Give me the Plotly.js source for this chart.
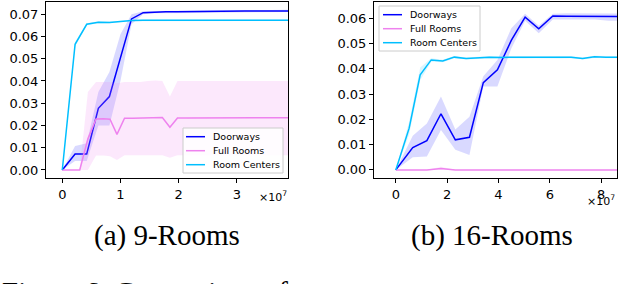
<!DOCTYPE html>
<html><head><meta charset="utf-8">
<script src="https://cdn.plot.ly/plotly-3.0.1.min.js"></script>
<style>html,body{margin:0;padding:0;background:#fff}#chart{width:618px;height:284px}</style>
</head><body><div id="chart"></div>
<script>
// ---------- 9-Rooms (x in units of 1e7) ----------
const a_x = [0, 0.22, 0.42, 0.62, 0.81, 1.0, 1.19, 1.39, 1.58, 1.78, 1.97, 2.17, 2.36, 2.56, 2.75, 2.95, 3.14, 3.34, 3.53, 3.73, 3.92];
const a_door = [0, 0.0072, 0.0072, 0.0277, 0.033, 0.050, 0.0679, 0.0707, 0.0710, 0.0711, 0.0711, 0.0711, 0.0711, 0.0712, 0.0712, 0.0713, 0.0714, 0.0715, 0.0715, 0.0715, 0.0715];
const a_door_lo = [0, 0.0040, 0.0040, 0.0200, 0.0200, 0.040, 0.0655, 0.0700, 0.0705, 0.0706, 0.0706, 0.0706, 0.0706, 0.0707, 0.0707, 0.0708, 0.0709, 0.0710, 0.0710, 0.0710, 0.0710];
const a_door_hi = [0, 0.0108, 0.0120, 0.0350, 0.0440, 0.061, 0.0700, 0.0713, 0.0715, 0.0716, 0.0716, 0.0716, 0.0716, 0.0717, 0.0717, 0.0718, 0.0719, 0.0720, 0.0720, 0.0720, 0.0720];
const a_cent = [0, 0.0565, 0.0655, 0.0664, 0.0663, 0.0668, 0.0672, 0.0673, 0.0673, 0.0673, 0.0674, 0.0674, 0.0674, 0.0673, 0.0674, 0.0674, 0.0673, 0.0673, 0.0673, 0.0673, 0.0673];
const a_cent_lo = [0, 0.0555, 0.0650, 0.0660, 0.0660, 0.0665, 0.0669, 0.0670, 0.0670, 0.0670, 0.0671, 0.0671, 0.0671, 0.0670, 0.0671, 0.0671, 0.0670, 0.0670, 0.0670, 0.0670, 0.0670];
const a_cent_hi = [0, 0.0575, 0.0660, 0.0668, 0.0667, 0.0671, 0.0675, 0.0676, 0.0676, 0.0676, 0.0677, 0.0677, 0.0677, 0.0676, 0.0677, 0.0677, 0.0676, 0.0676, 0.0676, 0.0676, 0.0676];
const a_fx = [0, 0.14, 0.30, 0.44, 0.58, 0.71, 0.82, 0.94, 1.07, 1.21, 1.34, 1.47, 1.60, 1.72, 1.85, 1.98, 2.12, 2.25, 2.38, 2.52, 2.65, 2.78, 2.92, 3.05, 3.18, 3.32, 3.45, 3.58, 3.72, 3.85, 3.98];
const a_full = [0, 0, 0, 0.0140, 0.0229, 0.0230, 0.0228, 0.0160, 0.0233, 0.0233, 0.0233, 0.0233, 0.0234, 0.0236, 0.0192, 0.0234, 0.0234, 0.0234, 0.0233, 0.0233, 0.0233, 0.0233, 0.0234, 0.0234, 0.0234, 0.0234, 0.0234, 0.0234, 0.0235, 0.0235, 0.0235];
const a_full_lo = [0, 0, 0, 0, 0.0065, 0.0065, 0.0062, 0.0045, 0.0066, 0.0066, 0.0066, 0.0066, 0.0066, 0.0066, 0.0055, 0.0066, 0.0066, 0.0066, 0.0066, 0.0066, 0.0066, 0.0066, 0.0066, 0.0066, 0.0066, 0.0066, 0.0066, 0.0066, 0.0066, 0.0066, 0.0066];
const a_full_hi = [0, 0, 0, 0.0350, 0.0395, 0.0395, 0.0395, 0.0390, 0.0395, 0.0395, 0.0395, 0.0400, 0.0402, 0.0400, 0.0330, 0.0400, 0.0400, 0.0400, 0.0400, 0.0400, 0.0400, 0.0400, 0.0400, 0.0400, 0.0400, 0.0400, 0.0400, 0.0400, 0.0400, 0.0400, 0.0400];

// ---------- 16-Rooms ----------
const b_x = [0, 0.66, 1.21, 1.76, 2.32, 2.87, 3.41, 3.96, 4.50, 5.04, 5.57, 6.12, 6.66, 7.20, 7.75, 8.30, 8.84];
const b_door = [0, 0.0088, 0.0116, 0.0222, 0.0119, 0.0129, 0.0345, 0.0396, 0.0512, 0.0604, 0.0558, 0.0609, 0.0608, 0.0608, 0.0609, 0.0607, 0.0606];
const b_door_lo = [0, 0.0050, 0.0053, 0.0158, 0.0080, 0.0059, 0.0330, 0.0330, 0.0480, 0.0590, 0.0540, 0.0595, 0.0595, 0.0595, 0.0595, 0.0590, 0.0590];
const b_door_hi = [0, 0.0135, 0.0184, 0.0290, 0.0160, 0.0210, 0.0370, 0.0435, 0.0560, 0.0618, 0.0570, 0.0618, 0.0620, 0.0620, 0.0620, 0.0618, 0.0618];
const b_full = [0, 0, 0, 0.0006, 0, 0, 0, 0, 0, 0, 0, 0, 0, 0, 0, 0, 0];
const b_full_lo = [0, 0, 0, 0, 0, 0, 0, 0, 0, 0, 0, 0, 0, 0, 0, 0, 0];
const b_full_hi = [0, 0, 0, 0.0012, 0, 0, 0, 0, 0, 0, 0, 0, 0, 0, 0, 0, 0];
const b_cx = [0, 0.52, 0.95, 1.38, 1.83, 2.28, 2.74, 3.19, 3.64, 4.10, 4.55, 5.00, 5.46, 5.92, 6.37, 6.83, 7.28, 7.74, 8.19, 8.65];
const b_cent = [0, 0.0165, 0.0376, 0.0435, 0.0431, 0.0446, 0.0441, 0.0443, 0.0446, 0.0445, 0.0445, 0.0445, 0.0446, 0.0446, 0.0445, 0.0446, 0.0441, 0.0447, 0.0446, 0.0446];
const b_cent_lo = [0, 0.0140, 0.0355, 0.0428, 0.0426, 0.0442, 0.0437, 0.0439, 0.0442, 0.0441, 0.0441, 0.0441, 0.0442, 0.0442, 0.0441, 0.0442, 0.0437, 0.0443, 0.0442, 0.0442];
const b_cent_hi = [0, 0.0190, 0.0405, 0.0442, 0.0436, 0.0450, 0.0445, 0.0447, 0.0450, 0.0449, 0.0449, 0.0449, 0.0450, 0.0450, 0.0449, 0.0450, 0.0445, 0.0451, 0.0450, 0.0450];

const seriesNames = ['Doorways', 'Full Rooms', 'Room Centers'];
const a_xticks = [0, 1, 2, 3];
const b_xticks = [0, 2, 4, 6, 8];
const a_yticks = [0, 0.01, 0.02, 0.03, 0.04, 0.05, 0.06, 0.07];
const b_yticks = [0, 0.01, 0.02, 0.03, 0.04, 0.05, 0.06];
const captions = ['(a) 9-Rooms', '(b) 16-Rooms'];
const expLabel = '×10<sup>7</sup>';
const figText = 'Figure 6: Comparison of';

const colors = ['#0000ff', '#ee82ee', '#00bfff'];
const bandColors = ['rgba(0,0,255,0.15)', 'rgba(238,130,238,0.18)', 'rgba(0,191,255,0.15)'];

const W = 618, H = 284;
const px = x => x / W, py = y => 1 - y / H;

function band(x, lo, hi, i, ax) {
  return {x: x.concat(x.slice().reverse()), y: hi.concat(lo.slice().reverse()),
    fill: 'toself', fillcolor: bandColors[i], line: {width: 0}, mode: 'lines',
    hoverinfo: 'skip', showlegend: false, xaxis: 'x' + ax, yaxis: 'y' + ax};
}
function line(x, y, i, ax) {
  return {x: x, y: y, mode: 'lines', line: {color: colors[i], width: 1.5},
    name: seriesNames[i], showlegend: false, xaxis: 'x' + ax, yaxis: 'y' + ax};
}

const traces = [
  band(a_x, a_door_lo, a_door_hi, 0, ''), line(a_x, a_door, 0, ''),
  band(a_fx, a_full_lo, a_full_hi, 1, ''), line(a_fx, a_full, 1, ''),
  band(a_x, a_cent_lo, a_cent_hi, 2, ''), line(a_x, a_cent, 2, ''),
  band(b_x, b_door_lo, b_door_hi, 0, '2'), line(b_x, b_door, 0, '2'),
  band(b_x, b_full_lo, b_full_hi, 1, '2'), line(b_x, b_full, 1, '2'),
  band(b_cx, b_cent_lo, b_cent_hi, 2, '2'), line(b_cx, b_cent, 2, '2')
];

const tickFont = {family: 'DejaVu Sans', size: 13, color: '#000'};
function axisBase() {
  return {showline: true, mirror: true, linecolor: '#000', linewidth: 1, ticks: 'outside',
    ticklen: 4, tickwidth: 1, tickcolor: '#000', showgrid: false, zeroline: false,
    tickfont: tickFont, fixedrange: true};
}
const yDom = [py(178), py(2)];
const layout = {
  width: W, height: H, margin: {l: 0, r: 0, t: 0, b: 0},
  paper_bgcolor: '#fff', plot_bgcolor: '#fff', showlegend: false,
  xaxis: Object.assign(axisBase(), {domain: [px(46), px(288)], range: [-0.28, 3.88], tickvals: a_xticks, ticktext: a_xticks.map(String), anchor: 'y'}),
  yaxis: Object.assign(axisBase(), {domain: yDom, range: [-0.0036, 0.0755], tickvals: a_yticks, ticktext: a_yticks.map(v => v.toFixed(2)), anchor: 'x'}),
  xaxis2: Object.assign(axisBase(), {domain: [px(374), px(617)], range: [-0.85, 8.62], tickvals: b_xticks, ticktext: b_xticks.map(String), anchor: 'y2'}),
  yaxis2: Object.assign(axisBase(), {domain: yDom, range: [-0.0032, 0.0664], tickvals: b_yticks, ticktext: b_yticks.map(v => v.toFixed(2)), anchor: 'x2'}),
  shapes: [], annotations: []
};

// legends (one per panel), drawn in pixel positions
const legends = [
  {x0: 183, y0: 128, x1: 283, y1: 173, rows: [136.7, 150.7, 164.7], lx0: 186, lx1: 205, tx: 211},
  {x0: 379, y0: 6, x1: 480, y1: 51, rows: [14.7, 28.7, 42.7], lx0: 383, lx1: 402, tx: 408}
];
legends.forEach(L => {
  layout.shapes.push({type: 'rect', xref: 'paper', yref: 'paper', x0: px(L.x0), x1: px(L.x1), y0: py(L.y1), y1: py(L.y0),
    line: {color: '#cccccc', width: 1}, fillcolor: 'rgba(255,255,255,0.85)', layer: 'above'});
  seriesNames.forEach((n, i) => {
    layout.shapes.push({type: 'line', xref: 'paper', yref: 'paper', x0: px(L.lx0), x1: px(L.lx1), y0: py(L.rows[i]), y1: py(L.rows[i]),
      line: {color: colors[i], width: 1.5}, layer: 'above'});
    layout.annotations.push({xref: 'paper', yref: 'paper', x: px(L.tx), y: py(L.rows[i]), xanchor: 'left', yanchor: 'middle',
      text: n, showarrow: false, font: {family: 'DejaVu Sans', size: 9.5, color: '#000'}});
  });
});

// exponent labels
layout.annotations.push({xref: 'paper', yref: 'paper', x: px(289), y: py(196), xanchor: 'right', yanchor: 'middle', text: expLabel, showarrow: false, font: {family: 'DejaVu Sans', size: 11, color: '#000'}});
layout.annotations.push({xref: 'paper', yref: 'paper', x: px(617), y: py(201), xanchor: 'right', yanchor: 'middle', text: expLabel, showarrow: false, font: {family: 'DejaVu Sans', size: 11, color: '#000'}});
// captions
layout.annotations.push({xref: 'paper', yref: 'paper', x: px(167), y: py(235), xanchor: 'center', yanchor: 'middle', text: captions[0], showarrow: false, font: {family: 'Liberation Serif', size: 29, color: '#000'}});
layout.annotations.push({xref: 'paper', yref: 'paper', x: px(492), y: py(235), xanchor: 'center', yanchor: 'middle', text: captions[1], showarrow: false, font: {family: 'Liberation Serif', size: 29, color: '#000'}});
// partially visible figure caption at the bottom edge (cut off, as in the reference)
layout.annotations.push({xref: 'paper', yref: 'paper', x: px(0), y: py(292), xanchor: 'left', yanchor: 'middle', text: figText, showarrow: false, font: {family: 'Liberation Serif', size: 29, color: '#000'}});

Plotly.newPlot('chart', traces, layout, {staticPlot: true, displayModeBar: false});
</script></body></html>
